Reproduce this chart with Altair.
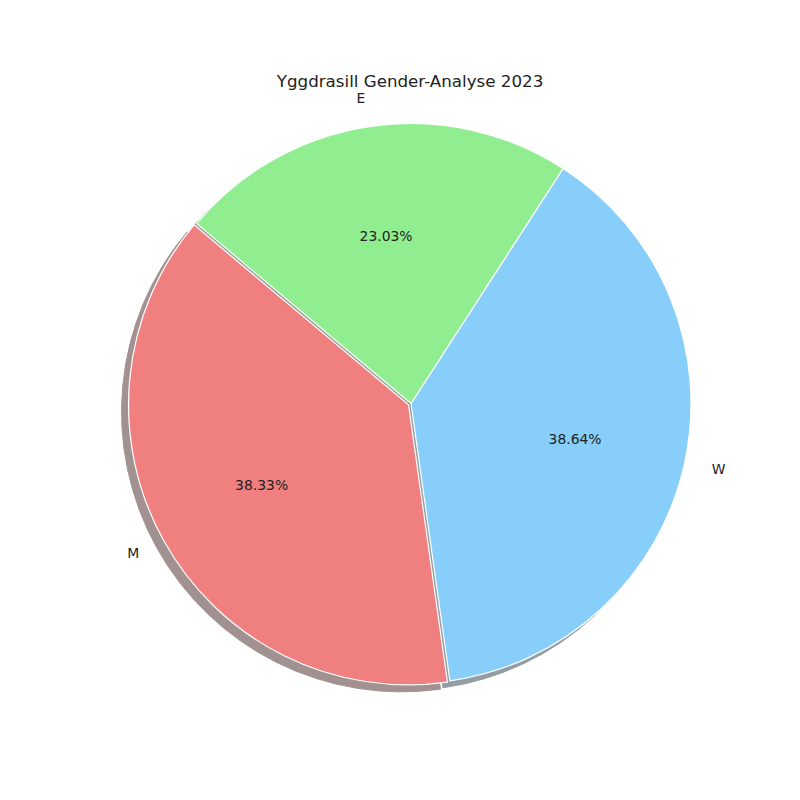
import math

import altair as alt
import pandas as pd

# data
labels = ["M", "W", "E"]
shares = [38.33, 38.64, 23.03]
colors = ["lightcoral", "lightskyblue", "lightgreen"]
shadow_colors = ["#482626", "#283E4B", "#2B472B"]  # 0.3 * wedge colour
explode = [0.01, 0, 0]
title_text = "Yggdrasill Gender-Analyse 2023"

df = pd.DataFrame({"label": labels, "share": shares, "idx": list(range(len(labels)))})

W = H = 784
cx, cy = 403, 395.5
R = 280
start_deg = 140  # matplotlib style start angle, counter-clockwise
shadow_dx, shadow_dy = -7, 7
total = sum(shares)

# vega measures angles clockwise from north -> draw the slices in reverse order
s = math.radians(90 - start_deg) + 2 * math.pi
theta_scale = alt.Scale(domain=[0, total], range=[s, s + 2 * math.pi])

base = alt.Chart(df).transform_window(
    cum="sum(share)", sort=[alt.SortField("idx", order="descending")]
).transform_calculate(
    t0="datum.cum - datum.share",
    tmid="datum.cum - datum.share / 2",
    pct="format(datum.share, '.2f') + '%'",
)

font = "DejaVu Sans"
shadows, wedges, texts = [], [], []
acc = 0
for i, lab in enumerate(labels):
    mid = math.radians(start_deg + 360 * (acc + shares[i] / 2) / total)
    acc += shares[i]
    ox = cx + explode[i] * R * math.cos(mid)
    oy = cy - explode[i] * R * math.sin(mid)
    part = base.transform_filter(alt.datum.label == lab)

    enc = dict(
        theta=alt.Theta("t0:Q", scale=theta_scale, stack=False),
        theta2="cum:Q",
    )
    shadows.append(part.mark_arc(
        outerRadius=R, color=shadow_colors[i], opacity=0.5,
        stroke=shadow_colors[i], strokeWidth=1,
    ).encode(x=alt.value(ox + shadow_dx), y=alt.value(oy + shadow_dy), **enc))
    wedges.append(part.mark_arc(
        outerRadius=R, color=colors[i], stroke="white", strokeWidth=1.2
    ).encode(x=alt.value(ox), y=alt.value(oy), **enc))

    tenc = dict(
        theta=alt.Theta("tmid:Q", scale=theta_scale, stack=False),
        x=alt.value(ox),
        y=alt.value(oy),
    )
    align = "left" if math.cos(mid) > 0 else "right"
    name = part.mark_text(
        radius=1.1 * R, align=align, baseline="middle", font=font,
        fontSize=13.9, color="#222222",
    ).encode(text="label:N", **tenc)
    pct = part.mark_text(
        radius=0.6 * R, align="center", baseline="middle", font=font,
        fontSize=13.9, color="#222222",
    ).encode(text="pct:N", **tenc)
    texts += [name, pct]

title = alt.Chart(pd.DataFrame({"t": [title_text]})).mark_text(
    font=font, fontSize=16.7, color="#222222", align="center", baseline="middle"
).encode(text="t:N", x=alt.value(402), y=alt.value(74))

chart = alt.layer(*shadows, *wedges, *texts, title).properties(
    width=W, height=H, padding=0
).configure_view(stroke=None)

chart.save("out.html", embed_options={"renderer": "svg", "actions": False})
